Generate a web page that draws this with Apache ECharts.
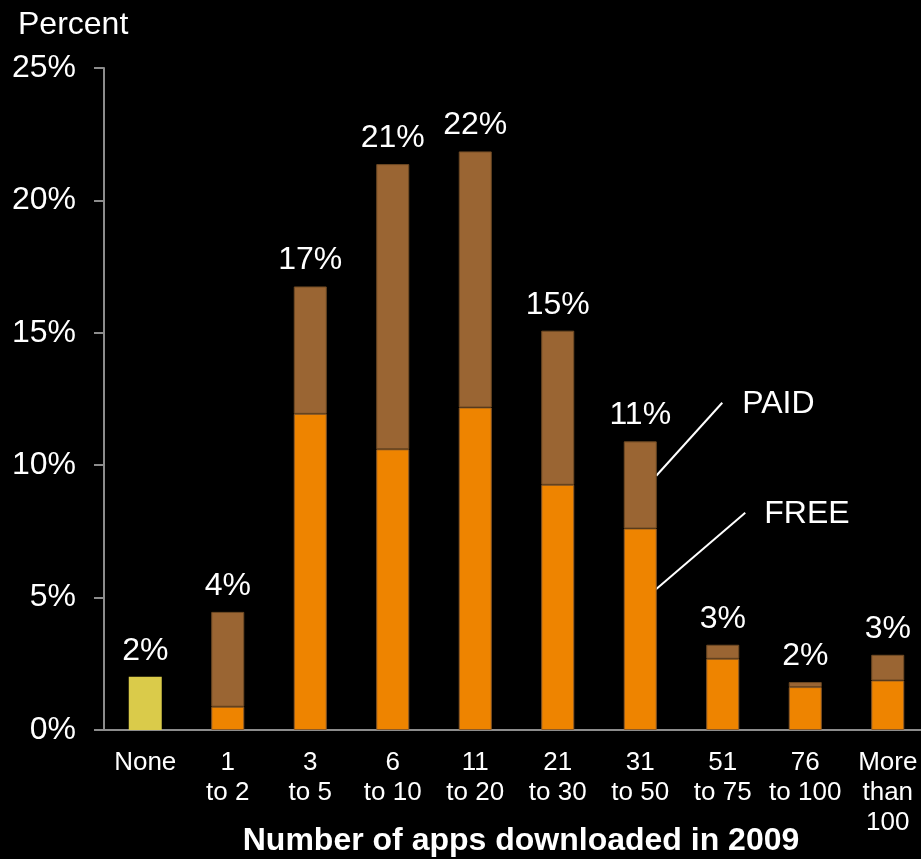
<!DOCTYPE html>
<html>
<head>
<meta charset="utf-8">
<script src="https://cdn.jsdelivr.net/npm/echarts@6/dist/echarts.min.js"></script>
<style>
  html, body { margin: 0; padding: 0; background: #000; }
  #chart { width: 921px; height: 859px; }
</style>
</head>
<body>
<div id="chart"></div>
<script>
const categories = ['None', '1\nto 2', '3\nto 5', '6\nto 10', '11\nto 20', '21\nto 30', '31\nto 50', '51\nto 75', '76\nto 100', 'More\nthan\n100'];
const noneValues = [2.01, '-', '-', '-', '-', '-', '-', '-', '-', '-'];
const freeValues = ['-', 0.88, 11.94, 10.60, 12.18, 9.26, 7.61, 2.69, 1.62, 1.87];
const paidValues = ['-', 3.58, 4.81, 10.77, 9.67, 5.82, 3.29, 0.53, 0.19, 0.97];
const totalLabels = ['2%', '4%', '17%', '21%', '22%', '15%', '11%', '3%', '2%', '3%'];
const yTickMin = 0, yTickMax = 25, yTickStep = 5;
const annotationIndex = 6;
const paidPointValue = 9.6;
const freePointValue = 5.26;

const FONT = 'Liberation Sans, Arial, Helvetica, sans-serif';
const chart = echarts.init(document.getElementById('chart'), null, { renderer: 'canvas' });

const labelCfg = {
  show: true,
  position: 'top',
  distance: 10,
  color: '#fff',
  fontFamily: FONT,
  fontSize: 32,
  formatter: p => totalLabels[p.dataIndex]
};

const option = {
  animation: false,
  backgroundColor: '#000',
  title: {
    text: 'Percent',
    left: 13,
    top: 4,
    textStyle: { color: '#fff', fontFamily: FONT, fontSize: 32, fontWeight: 'normal' }
  },
  grid: { left: 104, right: -8, top: 68, bottom: 129, containLabel: false, outerBoundsMode: 'none' },
  xAxis: {
    type: 'category',
    data: categories,
    axisLine: { lineStyle: { color: '#8c8c8c', width: 2 } },
    axisTick: { show: false },
    axisLabel: {
      color: '#fff', fontFamily: FONT, fontSize: 26, lineHeight: 30, margin: 18, interval: 0
    },
    name: 'Number of apps downloaded in 2009',
    nameLocation: 'middle',
    nameGap: 95,
    nameMoveOverlap: false,
    nameTextStyle: {
      color: '#fff', fontFamily: FONT, fontSize: 32, fontWeight: 'bold', padding: [0, 0, 0, 9]
    }
  },
  yAxis: {
    type: 'value',
    min: yTickMin,
    max: yTickMax,
    interval: yTickStep,
    splitLine: { show: false },
    axisLine: { show: true, lineStyle: { color: '#8c8c8c', width: 2 } },
    axisTick: { show: true, inside: false, length: 10, lineStyle: { color: '#8c8c8c', width: 2 } },
    axisLabel: {
      color: '#fff', fontFamily: FONT, fontSize: 32, margin: 28,
      formatter: v => v + '%'
    }
  },
  series: [
    {
      name: 'None',
      type: 'bar',
      stack: 'a',
      barWidth: 33,
      data: noneValues,
      itemStyle: { color: '#DACB4A' },
      label: labelCfg
    },
    {
      name: 'FREE',
      type: 'bar',
      stack: 'a',
      barWidth: 33,
      data: freeValues,
      itemStyle: { color: '#EE8400', borderColor: '#8a5a28', borderWidth: 1 }
    },
    {
      name: 'PAID',
      type: 'bar',
      stack: 'a',
      barWidth: 33,
      data: paidValues,
      itemStyle: { color: '#9A6533', borderColor: '#6e4a24', borderWidth: 1 },
      label: labelCfg
    }
  ]
};

chart.setOption(option);

const paidPt = chart.convertToPixel({ xAxisIndex: 0, yAxisIndex: 0 }, [annotationIndex, paidPointValue]);
const freePt = chart.convertToPixel({ xAxisIndex: 0, yAxisIndex: 0 }, [annotationIndex, freePointValue]);

chart.setOption({
  graphic: [
    {
      type: 'line',
      shape: { x1: paidPt[0] + 16, y1: paidPt[1], x2: paidPt[0] + 82, y2: paidPt[1] - 73 },
      style: { stroke: '#fff', lineWidth: 2 }
    },
    {
      type: 'text',
      left: paidPt[0] + 102,
      top: paidPt[1] - 88,
      style: { text: 'PAID', fill: '#fff', font: '32px ' + FONT }
    },
    {
      type: 'line',
      shape: { x1: freePt[0] + 14, y1: freePt[1], x2: freePt[0] + 105, y2: freePt[1] - 78 },
      style: { stroke: '#fff', lineWidth: 2 }
    },
    {
      type: 'text',
      left: freePt[0] + 124,
      top: freePt[1] - 93,
      style: { text: 'FREE', fill: '#fff', font: '32px ' + FONT }
    }
  ]
});
</script>
</body>
</html>
